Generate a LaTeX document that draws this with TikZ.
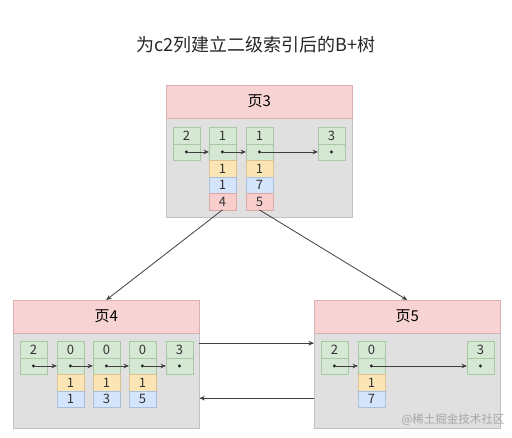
\documentclass[tikz,border=0pt]{standalone}
\usepackage{fontspec}
\setmainfont{Noto Sans CJK SC}
\usetikzlibrary{arrows.meta}

\definecolor{pagegray}{HTML}{E0E0E0}
\definecolor{pageline}{HTML}{C2C2C2}
\definecolor{headpink}{HTML}{F8D3D3}
\definecolor{headline}{HTML}{D9AFAF}
\definecolor{keygreen}{HTML}{D5E8D4}
\definecolor{keyline}{HTML}{A9C7A4}
\definecolor{coryellow}{HTML}{FCE5B4}
\definecolor{corline}{HTML}{DCC28E}
\definecolor{idxblue}{HTML}{D4E4FA}
\definecolor{idxline}{HTML}{A9BFDB}
\definecolor{pkpink}{HTML}{F8CECC}
\definecolor{pkline}{HTML}{D8A9A7}
\definecolor{linkgray}{HTML}{3F3F3F}

\tikzset{
  page/.style={draw=pageline, fill=pagegray, minimum width=186pt, inner sep=0pt, anchor=north west},
  head/.style={draw=headline, fill=headpink, minimum width=186pt, minimum height=33pt, inner sep=0pt,
    anchor=north west, font=\fontsize{15}{15}\selectfont},
  cell/.style={minimum width=26.5pt, minimum height=16.5pt, inner sep=0pt, anchor=north west,
    text=black!80, font=\fontsize{13}{13}\selectfont},
  keycell/.style={cell, draw=keyline, fill=keygreen},
  corcell/.style={cell, draw=corline, fill=coryellow},
  idxcell/.style={cell, draw=idxline, fill=idxblue},
  pkcell/.style={cell, draw=pkline, fill=pkpink},
  dot/.style={circle, fill=black!85, inner sep=0pt, minimum size=3.4pt},
  link/.style={draw=linkgray, line width=0.8pt, -{Stealth[length=5.5pt, width=4.5pt]}}
}

\begin{document}
\begin{tikzpicture}[x=1pt, y=-1pt]
  \useasboundingbox (0,0) rectangle (512,437);

  % Title
  \node[font=\fontsize{18}{18}\selectfont, text=black!85] (title) at (256,45) {为c2列建立二级索引后的B+树};

  % --- PAGE 3 (root) ---
  \node[page, minimum height=132pt] (page3) at (166,85) {};
  \node[head] (h3) at (166,85) {页3};

  \node[keycell] (p3a-k) at (173,127) {2};
  \node[keycell] (p3a-p) at (173,143.5) {};
  \node[keycell] (p3b-k) at (209,127) {1};
  \node[keycell] (p3b-p) at (209,143.5) {};
  \node[corcell] (p3b-c) at (209,160) {1};
  \node[idxcell] (p3b-i) at (209,176.5) {1};
  \node[pkcell]  (p3b-x) at (209,193) {4};
  \node[keycell] (p3c-k) at (246,127) {1};
  \node[keycell] (p3c-p) at (246,143.5) {};
  \node[corcell] (p3c-c) at (246,160) {1};
  \node[idxcell] (p3c-i) at (246,176.5) {7};
  \node[pkcell]  (p3c-x) at (246,193) {5};
  \node[keycell] (p3d-k) at (318,127) {3};
  \node[keycell] (p3d-p) at (318,143.5) {};

  % record pointers inside page 3
  \node[dot] (d3a) at (p3a-p) {};
  \node[dot] (d3b) at (p3b-p) {};
  \node[dot] (d3c) at (p3c-p) {};
  \node[dot] (d3d) at (p3d-p) {};
  \draw[link] (d3a) -- (p3b-p.west);
  \draw[link] (d3b) -- (p3c-p.west);
  \draw[link] (d3c) -- (p3d-p.west);

  % --- PAGE 4 (leaf) ---
  \node[page, minimum height=128pt] (page4) at (13,300) {};
  \node[head] (h4) at (13,300) {页4};

  \node[keycell] (p4a-k) at (20,341) {2};
  \node[keycell] (p4a-p) at (20,357.5) {};
  \node[keycell] (p4b-k) at (57,341) {0};
  \node[keycell] (p4b-p) at (57,357.5) {};
  \node[corcell] (p4b-c) at (57,374) {1};
  \node[idxcell] (p4b-i) at (57,390.5) {1};
  \node[keycell] (p4c-k) at (93,341) {0};
  \node[keycell] (p4c-p) at (93,357.5) {};
  \node[corcell] (p4c-c) at (93,374) {1};
  \node[idxcell] (p4c-i) at (93,390.5) {3};
  \node[keycell] (p4d-k) at (129,341) {0};
  \node[keycell] (p4d-p) at (129,357.5) {};
  \node[corcell] (p4d-c) at (129,374) {1};
  \node[idxcell] (p4d-i) at (129,390.5) {5};
  \node[keycell] (p4e-k) at (166,341) {3};
  \node[keycell] (p4e-p) at (166,357.5) {};

  \node[dot] (d4a) at (p4a-p) {};
  \node[dot] (d4b) at (p4b-p) {};
  \node[dot] (d4c) at (p4c-p) {};
  \node[dot] (d4d) at (p4d-p) {};
  \node[dot] (d4e) at (p4e-p) {};
  \draw[link] (d4a) -- (p4b-p.west);
  \draw[link] (d4b) -- (p4c-p.west);
  \draw[link] (d4c) -- (p4d-p.west);
  \draw[link] (d4d) -- (p4e-p.west);

  % --- PAGE 5 (leaf) ---
  \node[page, minimum height=128pt] (page5) at (314,300) {};
  \node[head] (h5) at (314,300) {页5};

  \node[keycell] (p5a-k) at (321,341) {2};
  \node[keycell] (p5a-p) at (321,357.5) {};
  \node[keycell] (p5b-k) at (358,341) {0};
  \node[keycell] (p5b-p) at (358,357.5) {};
  \node[corcell] (p5b-c) at (358,374) {1};
  \node[idxcell] (p5b-i) at (358,390.5) {7};
  \node[keycell] (p5c-k) at (467,341) {3};
  \node[keycell] (p5c-p) at (467,357.5) {};

  \node[dot] (d5a) at (p5a-p) {};
  \node[dot] (d5b) at (p5b-p) {};
  \node[dot] (d5c) at (p5c-p) {};
  \draw[link] (d5a) -- (p5b-p.west);
  \draw[link] (d5b) -- (p5c-p.west);

  % Root entries point down to the leaf pages
  \draw[link] (p3b-x.south) -- (h4.north);
  \draw[link] (p3c-x.south) -- (h5.north);

  % Leaf pages linked both ways
  \draw[link] ([yshift=21pt]page4.east) -- ([yshift=21pt]page5.west);
  \draw[link] ([yshift=-34pt]page5.west) -- ([yshift=-34pt]page4.east);

  % watermark
  \node[anchor=east, text=black!35, font=\fontsize{11.5}{11.5}\selectfont] (mark) at (508,420) {@稀土掘金技术社区};
\end{tikzpicture}
\end{document}
